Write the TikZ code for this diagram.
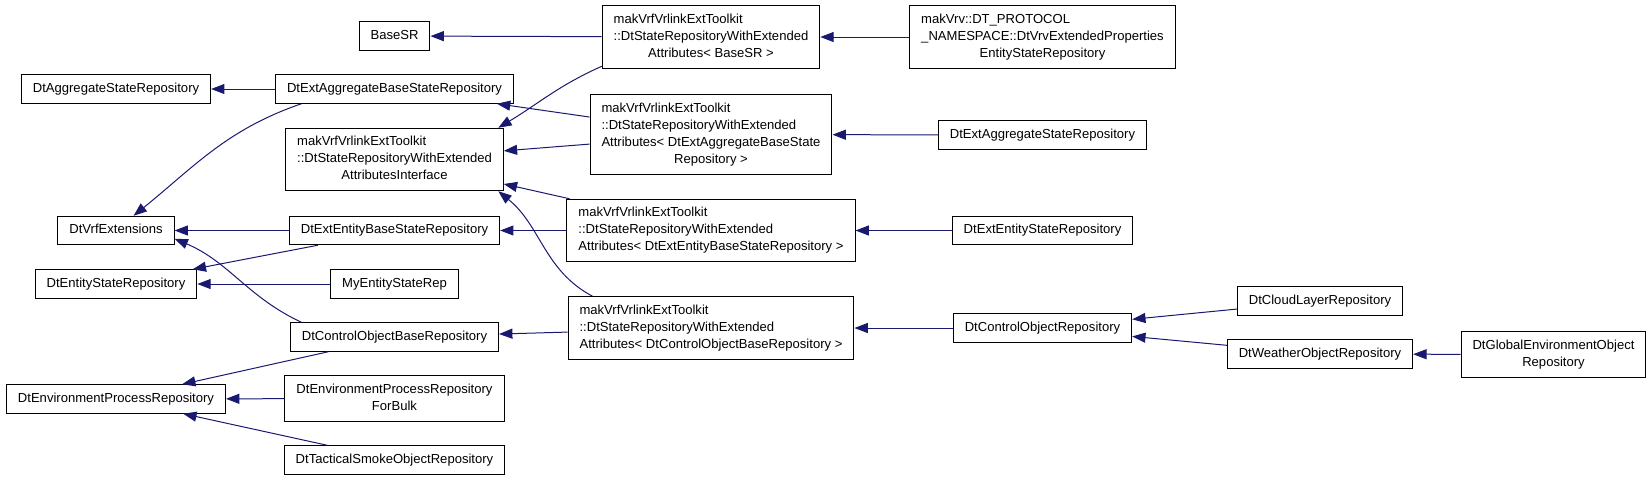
\documentclass[tikz,border=0pt]{standalone}
\usepackage{fontspec}
\setmainfont{Liberation Sans}
\usetikzlibrary{arrows.meta}
\definecolor{navy}{HTML}{191970}
\newcommand{\dxfont}{\fontsize{9.8pt}{12.75pt}\selectfont}
% left-aligned lines, last line centred (doxygen label style)
\newcommand{\dxlines}[2]{\begin{tabular}{@{}l@{}}#1\\\multicolumn{1}{@{}c@{}}{#2}\end{tabular}}
\newcommand{\dxcentre}[2]{\begin{tabular}{@{}c@{}}#1\\#2\end{tabular}}

\begin{document}
\begin{tikzpicture}[
  x=0.75pt, y=-0.75pt,
  cls/.style={draw=black, line width=0.75pt, inner xsep=8.6pt, inner ysep=4.3pt, font=\dxfont, execute at begin node=\strut},
  inherit/.style={draw=navy, line width=0.75pt, {Triangle[length=10pt,width=7.5pt]}-},
]
\useasboundingbox (0,0) rectangle (1651,480);

% === Column 1 ===
\node[cls] (aggstate) at (116,89)    {DtAggregateStateRepository};
\node[cls] (vrfext)   at (116,230.5) {DtVrfExtensions};
\node[cls] (entstate) at (116,284)   {DtEntityStateRepository};
\node[cls] (envproc)  at (116,399)   {DtEnvironmentProcessRepository};

% === Column 2 ===
\node[cls] (base)     at (394.5,36)    {BaseSR};
\node[cls] (aggbase)  at (394.5,89)    {DtExtAggregateBaseStateRepository};
\node[cls] (iface)    at (394.5,159.5) {\dxlines{makVrfVrlinkExtToolkit\\::DtStateRepositoryWithExtended}{AttributesInterface}};
\node[cls] (entbase)  at (394.5,230.5) {DtExtEntityBaseStateRepository};
\node[cls] (myent)    at (394.5,284)   {MyEntityStateRep};
\node[cls] (ctrlbase) at (394.5,337)   {DtControlObjectBaseRepository};
\node[cls] (forbulk)  at (394.5,398.5) {\dxlines{DtEnvironmentProcessRepository}{ForBulk}};
\node[cls] (smoke)    at (394.5,460)   {DtTacticalSmokeObjectRepository};

% === Column 3: template instances ===
\node[cls] (tplbase) at (711,37)    {\dxlines{makVrfVrlinkExtToolkit\\::DtStateRepositoryWithExtended}{Attributes< BaseSR >}};
\node[cls] (tplagg)  at (711,134.5) {\dxlines{makVrfVrlinkExtToolkit\\::DtStateRepositoryWithExtended\\Attributes< DtExtAggregateBaseState}{Repository >}};
\node[cls] (tplent)  at (711,230.5) {\dxlines{makVrfVrlinkExtToolkit\\::DtStateRepositoryWithExtended}{Attributes< DtExtEntityBaseStateRepository >}};
\node[cls] (tplctrl) at (711,328)   {\dxlines{makVrfVrlinkExtToolkit\\::DtStateRepositoryWithExtended}{Attributes< DtControlObjectBaseRepository >}};

% === Column 4 ===
\node[cls] (vrvprops) at (1042.5,37)    {\dxlines{makVrv::DT\_PROTOCOL\\\_NAMESPACE::DtVrvExtendedProperties}{EntityStateRepository}};
\node[cls] (extagg)   at (1042.5,135)   {DtExtAggregateStateRepository};
\node[cls] (extent)   at (1042.5,230.5) {DtExtEntityStateRepository};
\node[cls] (ctrlobj)  at (1042.5,328)   {DtControlObjectRepository};

% === Columns 5 and 6 ===
\node[cls] (cloud)     at (1320,301)    {DtCloudLayerRepository};
\node[cls] (weather)   at (1320,354)    {DtWeatherObjectRepository};
\node[cls] (globalenv) at (1553.5,354.5) {\dxcentre{DtGlobalEnvironmentObject}{Repository}};

% Inheritance (arrow at base class)
\draw[inherit] (base) -- (tplbase);
\draw[inherit] (tplbase) -- (vrvprops);
\draw[inherit] (aggstate) -- (aggbase);
\draw[inherit] (vrfext.40) to[out=39, in=199] (aggbase.189.4);
\draw[inherit] (vrfext) -- (entbase);
\draw[inherit] (vrfext.-8) to[out=-23, in=155] (ctrlbase.171.5);
\draw[inherit] (entstate) -- (entbase);
\draw[inherit] (entstate) -- (myent);
\draw[inherit] (envproc) -- (ctrlbase);
\draw[inherit] (envproc) -- (forbulk);
\draw[inherit] (envproc) -- (smoke);
\draw[inherit] (iface.17) to[out=31, in=204] (tplbase.195.3);
\draw[inherit] (iface) -- (tplagg);
\draw[inherit] (aggbase) -- (tplagg);
\draw[inherit] (iface) -- (tplent);
\draw[inherit] (iface.-17) to[out=-39, in=152] (tplctrl.165);
\draw[inherit] (entbase) -- (tplent);
\draw[inherit] (ctrlbase) -- (tplctrl);
\draw[inherit] (tplagg) -- (extagg);
\draw[inherit] (tplent) -- (extent);
\draw[inherit] (tplctrl) -- (ctrlobj);
\draw[inherit] (ctrlobj) -- (cloud);
\draw[inherit] (ctrlobj) -- (weather);
\draw[inherit] (weather) -- (globalenv);
\end{tikzpicture}
\end{document}
